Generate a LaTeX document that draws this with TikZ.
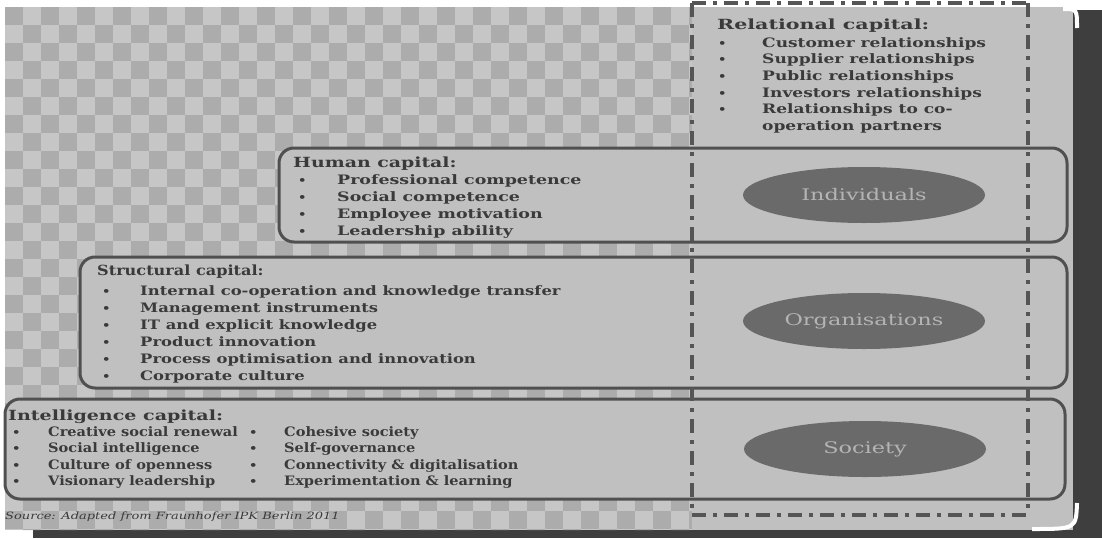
\documentclass[tikz,border=0pt]{standalone}
\usepackage{fontspec}
\setmainfont{DejaVu Serif}[FakeStretch=1.2]
\newfontfamily\relT{DejaVu Serif}[FakeStretch=1.47]
\newfontfamily\relI{DejaVu Serif}[FakeStretch=1.31]
\newfontfamily\humT{DejaVu Serif}[FakeStretch=1.35]
\newfontfamily\humI{DejaVu Serif}[FakeStretch=1.34]
\newfontfamily\strT{DejaVu Serif}[FakeStretch=1.15]
\newfontfamily\strI{DejaVu Serif}[FakeStretch=1.26]
\newfontfamily\intT{DejaVu Serif}[FakeStretch=1.36]
\newfontfamily\intI{DejaVu Serif}[FakeStretch=1.12]
\newfontfamily\ellF{DejaVu Serif}[FakeStretch=1.4]
\newfontfamily\srcfont{DejaVu Serif}[FakeStretch=1.3]
\definecolor{frame}{HTML}{3E3E3E}
\definecolor{checkA}{HTML}{C6C6C6}
\definecolor{checkB}{HTML}{ACACAC}
\definecolor{light}{HTML}{C0C0C0}
\definecolor{boxline}{HTML}{505050}
\definecolor{dd}{HTML}{555555}
\definecolor{txt}{HTML}{3A3A3A}
\definecolor{ellfill}{HTML}{6A6A6A}
\definecolor{elltxt}{HTML}{B4B4B4}
\usetikzlibrary{shapes.geometric}
\tikzset{
  capbox/.style={draw=boxline, line width=3pt, fill=light, rounded corners=15pt},
  dashdot/.style={draw=dd, line width=3.5pt, dash pattern=on 14pt off 7pt on 4pt off 7pt},
  ell/.style={ellipse, fill=ellfill, minimum width=242pt, minimum height=56pt, inner sep=0pt,
    text=elltxt, font=\fontsize{16}{18}\ellF},
  captitle/.style={anchor=base west, inner sep=0pt, text=txt, font=\fontsize{14}{16}#1\bfseries},
  capitem/.style={anchor=base west, inner sep=0pt, text=txt, font=\fontsize{13}{15}#1\bfseries},
  bul/.style={anchor=base west, inner sep=0pt, text=txt, font=\fontsize{11}{13}\selectfont\bfseries},
}
\begin{document}
\begin{tikzpicture}[x=1pt,y=-1pt]
\useasboundingbox (0,0) rectangle (1102,538);
\fill[white] (0,0) rectangle (1102,538);
% dark frame
\fill[frame] (1073,10) rectangle (1102,538);
\fill[frame] (33,530) rectangle (1102,538);
% panel with checker
\begin{scope}
  \clip (5,7) -- (1061,7) .. controls (1073,7) .. (1073,19) -- (1073,530) -- (5,530) -- cycle;
  \fill[checkA] (5,7) rectangle (1073,530);
  \foreach \i in {0,...,38}{
    \foreach \j in {0,...,29}{
      \pgfmathtruncatemacro\k{mod(\i+\j,2)}
      \ifnum\k=0 \fill[checkB] (5+18*\i,7+18*\j) rectangle ++(18,18);\fi
    }
  }
  \fill[light] (692,0) rectangle (1073,530);
\end{scope}
% white corner details
\draw[white, line width=4pt] (1063,9) .. controls (1077,9) .. (1077,28);
\draw[white, line width=4pt] (1032,529) .. controls (1076,529) .. (1077,503);
% capital boxes
\draw[capbox] (279,148) rectangle (1067,242);
\draw[capbox] (80,257) rectangle (1067,388);
\draw[capbox] (5,399) rectangle (1065,499);
% dash-dot frame
\coordinate (ddtl) at (692,3);
\coordinate (ddtr) at (1028,3);
\coordinate (ddbl) at (692,515);
\coordinate (ddbr) at (1028,515);
\draw[dashdot] (ddtl) -- (ddbl);
\draw[dashdot] (ddtr) -- (ddbr);
\draw[dashdot] (ddtl) -- (ddtr);
\draw[dashdot] (ddbl) -- (ddbr);
% ellipses
\node[ell] (ind) at (864,195) {Individuals};
\node[ell] (org) at (864,321) {Organisations};
\node[ell] (soc) at (865,449) {Society};
% relational capital
\node[captitle=\relT] (reltitle) at (717,29) {Relational capital:};
\foreach \t/\yy [count=\k] in {Customer relationships/47, Supplier relationships/63.5, Public relationships/80, Investors relationships/97, Relationships to co-/113}{
  \node[bul] (relb\k) at (718,\yy) {•};
  \node[capitem=\relI] (rel\k) at (762,\yy) {\t};
}
\node[capitem=\relI] (rel6) at (762,130) {operation partners};
% human capital
\node[captitle=\humT] (humtitle) at (293,167) {Human capital:};
\foreach \t/\yy [count=\k] in {Professional competence/184, Social competence/201, Employee motivation/218, Leadership ability/235}{
  \node[bul] (humb\k) at (298,\yy) {•};
  \node[capitem=\humI] (hum\k) at (337,\yy) {\t};
}
% structural capital
\node[captitle=\strT] (strtitle) at (97,275) {Structural capital:};
\foreach \t/\yy [count=\k] in {Internal co-operation and knowledge transfer/295, Management instruments/312, IT and explicit knowledge/329, Product innovation/346, Process optimisation and innovation/363, Corporate culture/380}{
  \node[bul] (strb\k) at (102,\yy) {•};
  \node[capitem=\strI] (str\k) at (140,\yy) {\t};
}
% intelligence capital
\node[captitle=\intT] (inttitle) at (8,420) {Intelligence capital:};
\foreach \t/\u/\yy [count=\k] in {Creative social renewal/Cohesive society/436, Social intelligence/Self-governance/452.5, Culture of openness/Connectivity \& digitalisation/469, Visionary leadership/Experimentation \& learning/485.5}{
  \node[bul] (intb\k) at (12,\yy) {•};
  \node[capitem=\intI] (int\k) at (48,\yy) {\t};
  \node[bul] (intc\k) at (249,\yy) {•};
  \node[capitem=\intI] (intd\k) at (284,\yy) {\u};
}
% source
\node[anchor=base west, inner sep=0pt, text=txt, font=\fontsize{10}{12}\srcfont\itshape] (src) at (5,519) {Source: Adapted from Fraunhofer IPK Berlin 2011};
\end{tikzpicture}
\end{document}
